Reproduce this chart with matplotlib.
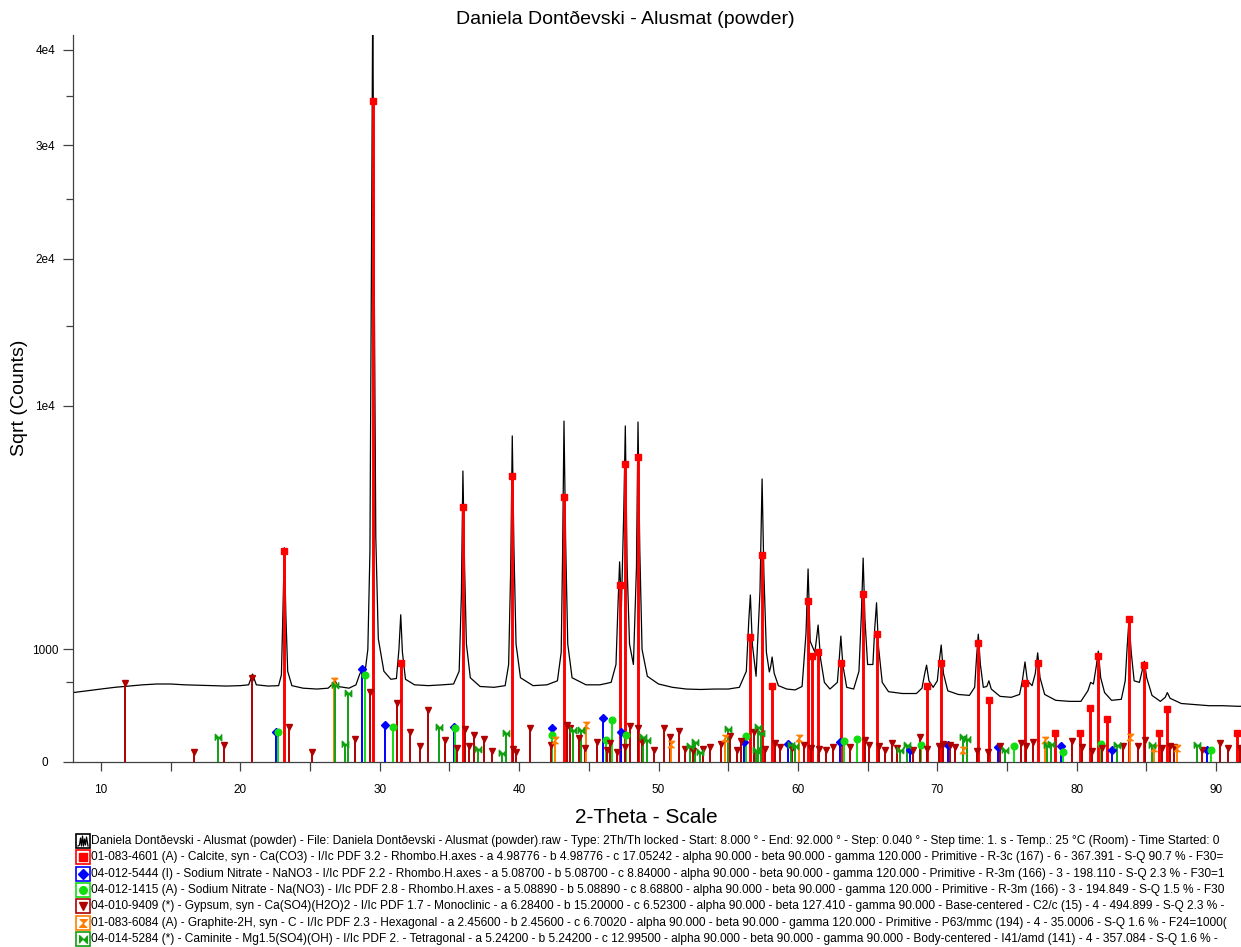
import numpy as np
import matplotlib
matplotlib.use('Agg')
import matplotlib.pyplot as plt
from matplotlib.patches import Rectangle

plt.rcParams['font.family'] = ['Liberation Sans', 'DejaVu Sans']

scan_points = [
    (8.0, 380), (9.0, 400), (10.0, 420), (11.0, 440), (12.0, 455), (13.0, 470), (14.0, 480),
    (15.0, 480), (16.0, 470), (17.0, 465), (18.0, 460), (19.0, 455), (20.0, 460), (20.6, 470),
    (20.88, 610), (21.15, 470), (22.0, 455), (22.75, 460), (22.95, 600), (23.06, 1800),
    (23.16, 3620), (23.27, 1700), (23.4, 650), (23.7, 460), (24.5, 430), (25.5, 420),
    (26.3, 430), (26.62, 480), (26.78, 530), (27.0, 450), (27.8, 430), (28.3, 470),
    (28.55, 600), (28.75, 690), (28.95, 640), (29.15, 1000), (29.3, 3500), (29.42, 22000),
    (29.5, 46000), (29.6, 20000), (29.72, 4000), (29.9, 1200), (30.3, 650), (30.8, 540),
    (31.2, 550), (31.38, 1000), (31.51, 1710), (31.63, 950), (31.85, 540), (32.5, 470),
    (33.5, 460), (34.5, 470), (35.3, 480), (35.7, 650), (35.86, 2200), (35.97, 6680),
    (36.09, 3000), (36.22, 1100), (36.5, 560), (37.2, 450), (38.2, 440), (39.0, 460),
    (39.25, 750), (39.4, 3000), (39.51, 8390), (39.63, 3600), (39.78, 1100), (40.1, 560),
    (41.0, 460), (42.0, 470), (42.75, 520), (43.02, 950), (43.12, 3400), (43.22, 9170),
    (43.34, 3800), (43.49, 1100), (43.8, 560), (44.8, 470), (45.8, 470), (46.6, 500),
    (46.95, 750), (47.1, 2000), (47.21, 3160), (47.34, 1900), (47.51, 5000), (47.62, 8910),
    (47.75, 3000), (47.92, 1100), (48.2, 750), (48.42, 3000), (48.53, 9120), (48.66, 3500),
    (48.82, 1000), (49.2, 580), (50.0, 480), (51.0, 440), (52.0, 420), (53.0, 415),
    (54.0, 420), (55.0, 420), (55.8, 440), (56.3, 650), (56.48, 1600), (56.59, 2200),
    (56.73, 1100), (57.0, 580), (57.28, 2300), (57.43, 6320), (57.56, 2800), (57.74, 950),
    (57.95, 640), (58.05, 720), (58.15, 870), (58.3, 620), (58.6, 460), (59.2, 420),
    (59.8, 410), (60.3, 450), (60.58, 1300), (60.73, 2940), (60.88, 1150), (61.04, 1050),
    (61.22, 950), (61.45, 1480), (61.62, 850), (61.9, 500), (62.3, 420), (62.83, 500),
    (62.97, 850), (63.08, 1250), (63.22, 750), (63.5, 440), (64.0, 420), (64.38, 650),
    (64.55, 1700), (64.68, 3280), (64.81, 1600), (65.0, 750), (65.38, 750), (65.51, 1400),
    (65.64, 2000), (65.78, 1050), (66.05, 500), (66.5, 390), (67.5, 370), (68.5, 370),
    (68.9, 430), (69.1, 620), (69.23, 740), (69.4, 520), (69.7, 440), (70.0, 520),
    (70.15, 820), (70.28, 1080), (70.44, 620), (70.75, 400), (71.5, 360), (72.3, 350),
    (72.68, 440), (72.81, 850), (72.94, 1290), (73.09, 750), (73.3, 440), (73.55, 450),
    (73.7, 520), (73.87, 420), (74.5, 340), (75.3, 330), (75.9, 360), (76.1, 520),
    (76.29, 790), (76.46, 520), (76.8, 460), (77.03, 620), (77.2, 940), (77.37, 560),
    (77.7, 360), (78.5, 300), (79.5, 290), (80.3, 290), (80.8, 400), (81.0, 500),
    (81.2, 480), (81.4, 720), (81.55, 970), (81.72, 560), (82.0, 380), (82.5, 300),
    (83.2, 310), (83.48, 520), (83.62, 1050), (83.75, 1600), (83.91, 950), (84.12, 520),
    (84.5, 500), (84.7, 660), (84.85, 800), (85.02, 560), (85.4, 350), (86.0, 290),
    (86.35, 330), (86.5, 380), (86.7, 320), (87.5, 270), (88.5, 260), (89.5, 250),
    (90.5, 250), (91.5, 245), (92.0, 245),
]

# reference patterns (stick positions and heights)
calcite_tt = [23.16, 29.50, 31.54, 35.97, 39.51, 43.22, 47.21, 47.62, 48.53, 56.59,
              57.43, 58.15, 60.73, 61.04, 61.45, 63.08, 64.68, 65.64, 69.23, 70.28,
              72.94, 73.70, 76.29, 77.20, 78.44, 80.23, 80.98, 81.55, 82.15, 83.75,
              84.85, 85.91, 86.50, 91.53]
calcite_i = [3510, 34480, 778, 5130, 6450, 5540, 2470, 7010, 7340, 1233,
             3381, 456, 2045, 887, 960, 778, 2227, 1293, 456, 778,
             1117, 303, 489, 778, 65, 65, 227, 887, 144, 1614,
             742, 65, 222, 65]

nitrate_a_tt = [22.56, 28.72, 30.39, 35.32, 42.35, 46.02, 47.33, 56.11, 59.30, 63.05,
                68.03, 70.78, 74.37, 78.87, 82.51, 89.33]
nitrate_a_i = [73, 678, 108, 98, 93, 150, 73, 33, 27, 33, 11, 23, 17, 19, 11, 11]

nitrate_b_tt = [22.73, 28.98, 30.94, 35.37, 42.38, 46.25, 46.66, 47.66, 56.26, 63.29,
                64.25, 68.82, 75.52, 79.04, 81.75, 89.64]
nitrate_b_i = [73, 597, 98, 89, 58, 38, 139, 58, 53, 36, 41, 23, 19, 8, 27, 11]

gypsum_tt = [11.75, 16.65, 18.86, 20.84, 23.52, 25.15, 28.24, 29.27, 31.23, 32.21,
             32.90, 33.50, 34.70, 35.53, 36.09, 36.40, 36.73, 37.47, 38.05, 39.56,
             39.75, 40.75, 42.26, 43.43, 43.62, 44.29, 44.70, 45.61, 46.33, 46.49,
             47.00, 47.57, 47.93, 48.50, 48.82, 49.68, 50.39, 50.80, 51.45, 51.88,
             52.48, 53.19, 53.67, 54.46, 55.11, 55.64, 55.95, 56.86, 57.67, 58.34,
             58.75, 59.58, 60.42, 60.97, 61.50, 62.05, 62.53, 63.72, 64.80, 65.11,
             65.81, 66.28, 66.72, 67.12, 68.27, 68.75, 69.28, 70.11, 70.42, 70.90,
             71.26, 72.86, 73.65, 74.49, 76.00, 76.38, 76.88, 79.64, 80.35, 81.07,
             81.79, 83.35, 84.42, 84.90, 86.10, 86.70, 87.01, 88.97, 90.29, 90.88,
             91.72]
gypsum_i = [489, 8, 23, 552, 95, 8, 41, 390, 278, 73,
            19, 213, 38, 15, 84, 19, 58, 41, 10, 13,
            8, 89, 23, 108, 89, 44, 15, 33, 11, 29,
            8, 17, 102, 89, 33, 11, 89, 48, 76, 13,
            10, 13, 17, 26, 53, 11, 36, 73, 13, 29,
            17, 15, 23, 15, 13, 11, 17, 17, 38, 23,
            19, 11, 29, 15, 11, 48, 13, 19, 27, 23,
            17, 10, 8, 19, 29, 19, 33, 36, 17, 10,
            15, 19, 19, 38, 15, 19, 17, 11, 29, 15,
            15]

graphite_tt = [26.70, 42.55, 44.78, 50.92, 54.75, 60.06, 71.81, 77.72, 83.82, 85.57, 87.17]
graphite_i = [522, 38, 108, 27, 47, 44, 11, 38, 48, 15, 15]

caminite_tt = [18.38, 26.82, 27.52, 27.76, 34.29, 37.04, 38.77, 39.08, 43.86, 44.46,
               48.89, 49.20, 52.29, 52.60, 52.96, 54.99, 57.02, 57.14, 57.38, 59.49,
               59.78, 67.31, 67.79, 71.86, 72.10, 74.85, 77.84, 78.15, 82.87, 85.38,
               88.61]
caminite_i = [51, 468, 26, 379, 98, 13, 6, 68, 81, 81,
              48, 38, 19, 33, 8, 84, 11, 95, 65, 23,
              19, 11, 23, 48, 41, 11, 23, 27, 23, 23,
              23]

y_ticks = [0, 1000, 10000, 20000, 30000, 40000]
y_tick_labels = ['0', '1000', '1e4', '2e4', '3e4', '4e4']
y_minor = [500, 15000, 25000, 35000]

title = 'Daniela Dontðevski - Alusmat (powder)'
legend_rows = [
    'Daniela Dontðevski - Alusmat (powder) - File: Daniela Dontðevski - Alusmat (powder).raw - Type: 2Th/Th locked - Start: 8.000 ° - End: 92.000 ° - Step: 0.040 ° - Step time: 1. s - Temp.: 25 °C (Room) - Time Started: 0',
    '01-083-4601 (A) - Calcite, syn - Ca(CO3) - I/Ic PDF 3.2 - Rhombo.H.axes - a 4.98776 - b 4.98776 - c 17.05242 - alpha 90.000 - beta 90.000 - gamma 120.000 - Primitive - R-3c (167) - 6 - 367.391 - S-Q 90.7 % - F30=',
    '04-012-5444 (I) - Sodium Nitrate - NaNO3 - I/Ic PDF 2.2 - Rhombo.H.axes - a 5.08700 - b 5.08700 - c 8.84000 - alpha 90.000 - beta 90.000 - gamma 120.000 - Primitive - R-3m (166) - 3 - 198.110 - S-Q 2.3 % - F30=1',
    '04-012-1415 (A) - Sodium Nitrate - Na(NO3) - I/Ic PDF 2.8 - Rhombo.H.axes - a 5.08890 - b 5.08890 - c 8.68800 - alpha 90.000 - beta 90.000 - gamma 120.000 - Primitive - R-3m (166) - 3 - 194.849 - S-Q 1.5 % - F30',
    '04-010-9409 (*) - Gypsum, syn - Ca(SO4)(H2O)2 - I/Ic PDF 1.7 - Monoclinic - a 6.28400 - b 15.20000 - c 6.52300 - alpha 90.000 - beta 127.410 - gamma 90.000 - Base-centered - C2/c (15) - 4 - 494.899 - S-Q 2.3 % -',
    '01-083-6084 (A) - Graphite-2H, syn - C - I/Ic PDF 2.3 - Hexagonal - a 2.45600 - b 2.45600 - c 6.70020 - alpha 90.000 - beta 90.000 - gamma 120.000 - Primitive - P63/mmc (194) - 4 - 35.0006 - S-Q 1.6 % - F24=1000(',
    '04-014-5284 (*) - Caminite - Mg1.5(SO4)(OH) - I/Ic PDF 2. - Tetragonal - a 5.24200 - b 5.24200 - c 12.99500 - alpha 90.000 - beta 90.000 - gamma 90.000 - Body-centered - I41/amd (141) - 4 - 357.084 - S-Q 1.6 % -',
]

# marker shapes
hourglass = [(-1, 1), (1, 1), (-1, -1), (1, -1)]
bowtie = [(-1, -1), (-1, 1), (1, -1), (1, 1)]

phases = [
    # tt, heights, colour, marker, marker size, stick width
    (calcite_tt, calcite_i, '#ff0000', 's', 4.6, 2.1),
    (nitrate_a_tt, nitrate_a_i, '#0000ff', 'D', 3.8, 1.4),
    (nitrate_b_tt, nitrate_b_i, '#11dd11', 'o', 4.8, 1.4),
    (gypsum_tt, gypsum_i, '#b00000', 'v', 5.0, 1.4),
    (graphite_tt, graphite_i, '#ff8000', hourglass, 4.6, 1.4),
    (caminite_tt, caminite_i, '#10a010', bowtie, 4.6, 1.4),
]

W, H = 1241, 947
fig = plt.figure(figsize=(W / 100, H / 100), dpi=100)
ax = fig.add_axes([73 / W, 1 - 762 / H, (1244 - 73) / W, (762 - 35) / H])

ax.set_yscale('function', functions=(lambda v: np.sqrt(np.clip(v, 0, None)), lambda v: v ** 2))

scan = np.array(scan_points)
ax.plot(scan[:, 0], scan[:, 1], color='black', lw=0.9, zorder=2)

# draw the minor phases first, calcite last so it sits on top
for k in [5, 4, 3, 2, 1, 0]:
    tt, hh, col, mk, ms, lw = phases[k]
    ax.vlines(tt, 0, hh, colors=col, lw=lw, zorder=3 + k * 0.01)
    ax.plot(tt, hh, ls='none', marker=mk, ms=ms, color=col, mec=col, zorder=4 + k * 0.01)

ax.set_xlim(8, 92)
ax.set_ylim(0, 41700)
ax.set_xticks(range(10, 91, 10))
ax.set_xticks(range(15, 91, 10), minor=True)
ax.set_yticks(y_ticks)
ax.set_yticklabels(y_tick_labels, ha='center')
ax.set_yticks(y_minor, minor=True)
ax.yaxis.set_minor_formatter(plt.NullFormatter())

for s in ['top', 'right']:
    ax.spines[s].set_visible(False)
for s in ['left', 'bottom']:
    ax.spines[s].set_color('#404040')
    ax.spines[s].set_linewidth(0.9)

ax.tick_params(axis='x', which='both', direction='out', length=6.5, width=0.9,
               color='#404040', labelsize=8.5, pad=9)
ax.tick_params(axis='y', which='major', direction='out', length=7, width=0.9,
               color='#404040', labelsize=8.5, pad=13)
ax.tick_params(axis='y', which='minor', direction='out', length=5, width=0.9, color='#404040')

fig.text(625 / W, 1 - 19 / H, title, ha='center', va='center', fontsize=14)
fig.text(646 / W, 1 - 817 / H, '2-Theta - Scale', ha='center', va='center', fontsize=15)
fig.text(20 / W, 1 - 398 / H, 'Sqrt (Counts)', ha='center', va='center', fontsize=14, rotation=90)

# legend drawn in pixel coordinates
leg = fig.add_axes([0, 0, 1, 1])
leg.set_xlim(0, W)
leg.set_ylim(H, 0)
leg.axis('off')
leg.patch.set_visible(False)

row_colors = ['black'] + [p[2] for p in phases]
row_markers = [None] + [p[3] for p in phases]
for i, text in enumerate(legend_rows):
    yc = 841 + i * 16.3
    col = row_colors[i]
    leg.add_patch(Rectangle((76, yc - 7), 14, 14, fill=False, ec=col, lw=1.2))
    if row_markers[i] is None:
        leg.plot([78, 79.5, 80.5, 81.5, 82.5, 83.5, 84.5, 85.5, 86.5, 88],
                 [yc + 5, yc + 4, yc - 3, yc + 5, yc - 5, yc + 5, yc - 2, yc + 4, yc - 4, yc + 5],
                 color='black', lw=0.9)
    else:
        leg.plot([83], [yc], ls='none', marker=row_markers[i], ms=5.5, color=col, mec=col)
    leg.text(91, yc, text, ha='left', va='center', fontsize=8.55, color='black')

fig.savefig('out.png', dpi=100)
